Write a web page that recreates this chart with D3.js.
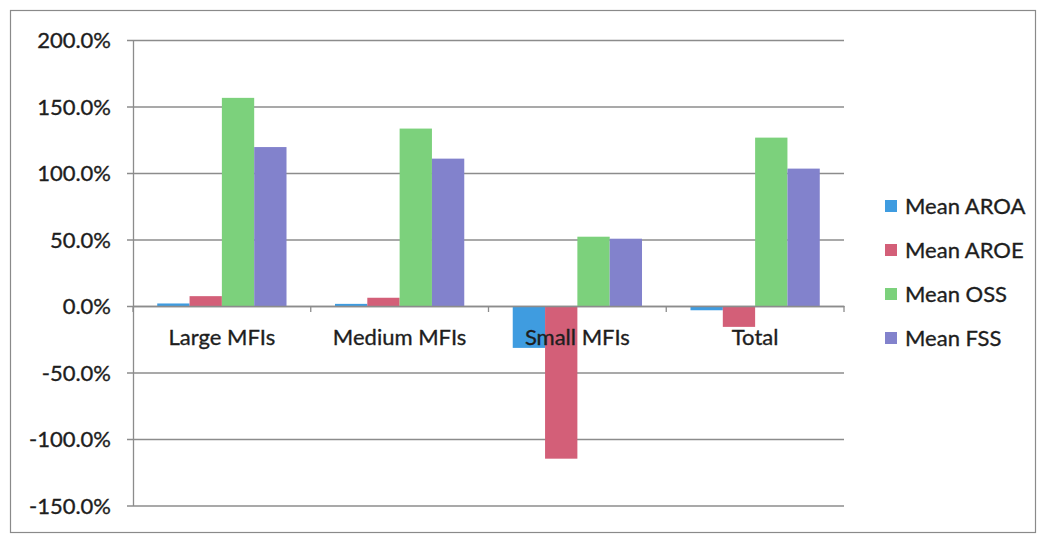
<!DOCTYPE html>
<html>
<head>
<meta charset="utf-8">
<script src="https://cdn.jsdelivr.net/npm/d3@7"></script>
<style>
  html, body { margin: 0; padding: 0; background: #fff; }
  svg { display: block; }
  text { font-family: Lato, "Open Sans", sans-serif; fill: #1e1e1e; stroke: #1e1e1e; stroke-width: 0.35px; }
</style>
</head>
<body>
<svg id="chart" width="1045" height="535"></svg>
<script>
// Categories, series and tick values
const categories = ["Large MFIs", "Medium MFIs", "Small MFIs", "Total"];
const seriesNames = ["Mean AROA", "Mean AROE", "Mean OSS", "Mean FSS"];
const meanAROA = [1.9, 1.6, -31.5, -3.2];
const meanAROE = [7.4, 6.2, -114.8, -15.7];
const meanOSS = [156.5, 133.4, 52.1, 126.6];
const meanFSS = [119.5, 110.8, 50.6, 103.3];
const yTicks = [-150, -100, -50, 0, 50, 100, 150, 200];
const colors = ["#3f9ce0", "#d35f78", "#7cd17c", "#8282cc"];

const seriesValues = [meanAROA, meanAROE, meanOSS, meanFSS];
const fontSize = 22;

const svg = d3.select("#chart");

// outer chart frame
svg.append("rect")
  .attr("x", 10.5).attr("y", 10.5)
  .attr("width", 1025).attr("height", 522)
  .attr("fill", "#fff")
  .attr("stroke", "#8a8a8a").attr("stroke-width", 1.2);

const plot = { left: 133, right: 844, top: 40, bottom: 505.5 };

const y = d3.scaleLinear().domain([-150, 200]).range([plot.bottom, plot.top]);
const x0 = d3.scaleBand().domain(categories).range([plot.left, plot.right]).paddingInner(0).paddingOuter(0);
// four bars per group with a 150% gap: 0.75 bar of space on each side
const x1 = d3.scaleBand().domain(seriesNames).range([0, x0.bandwidth()]).paddingInner(0).paddingOuter(0.75);

// horizontal gridlines extending slightly left of the value axis
const gy = svg.append("g")
  .attr("transform", `translate(${plot.right},0)`);
gy.call(d3.axisLeft(y).tickValues(yTicks).tickSize(plot.right - plot.left + 6).tickFormat(""));
gy.select(".domain").remove();
gy.selectAll("line").attr("stroke", "#8c8c8c").attr("stroke-width", 1.3);

// value axis and tick labels
const gl = svg.append("g").attr("transform", `translate(${plot.left},0)`);
gl.call(d3.axisLeft(y).tickValues(yTicks).tickSize(0).tickPadding(22).tickFormat(d => d.toFixed(1) + "%"));
gl.select(".domain").attr("stroke", "#8c8c8c").attr("stroke-width", 1.3);
gl.selectAll("text")
  .style("font-family", "Lato, 'Open Sans', sans-serif")
  .attr("font-size", fontSize)
  .attr("fill", "#1e1e1e")
  .attr("dy", "0.36em");

// bars
const groups = svg.append("g").selectAll("g")
  .data(categories)
  .join("g")
  .attr("transform", d => `translate(${x0(d)},0)`);

groups.selectAll("rect")
  .data((c, i) => seriesNames.map((s, j) => ({ s, v: seriesValues[j][i], j })))
  .join("rect")
  .attr("x", d => x1(d.s))
  .attr("width", x1.bandwidth())
  .attr("y", d => y(Math.max(0, d.v)))
  .attr("height", d => Math.abs(y(d.v) - y(0)))
  .attr("fill", d => colors[d.j]);

// category axis at zero
const gx = svg.append("g").attr("transform", `translate(0,${y(0)})`);
gx.call(d3.axisBottom(x0).tickSize(0).tickPadding(0).tickFormat(""));
gx.select(".domain").attr("stroke", "#8c8c8c").attr("stroke-width", 1.3);
gx.selectAll(".tick").remove();
const boundaries = categories.map(c => x0(c)).concat([plot.right]);
gx.selectAll("line.sep")
  .data(boundaries)
  .join("line")
  .attr("class", "sep")
  .attr("x1", d => d).attr("x2", d => d)
  .attr("y1", 0).attr("y2", 6)
  .attr("stroke", "#8c8c8c").attr("stroke-width", 1.3);

gx.selectAll("text.cat")
  .data(categories)
  .join("text")
  .attr("class", "cat")
  .attr("x", d => x0(d) + x0.bandwidth() / 2)
  .attr("y", 39)
  .attr("text-anchor", "middle")
  .attr("font-size", fontSize)
  .text(d => d);

// legend
const legend = svg.append("g").attr("transform", "translate(885,206)");
const items = legend.selectAll("g")
  .data(seriesNames)
  .join("g")
  .attr("transform", (d, i) => `translate(0,${i * 44})`);
items.append("rect")
  .attr("x", 0).attr("y", -6)
  .attr("width", 12).attr("height", 12)
  .attr("fill", (d, i) => colors[i]);
items.append("text")
  .attr("x", 20).attr("y", 0)
  .attr("dy", "0.36em")
  .attr("font-size", fontSize)
  .text(d => d);
</script>
</body>
</html>
